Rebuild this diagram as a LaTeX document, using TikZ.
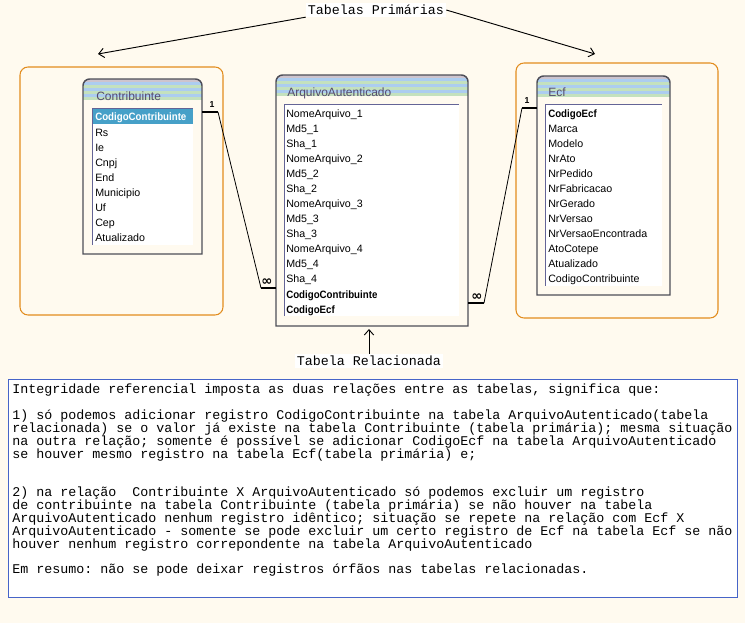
\documentclass[tikz,border=0pt]{standalone}
\usepackage{fontspec}
\setmainfont{Liberation Sans}
\newfontfamily\notafont{Liberation Mono}
\newfontfamily\simbolofont{DejaVu Sans}
\usetikzlibrary{arrows.meta}
\begin{document}
\begin{tikzpicture}[x=0.75pt,y=-0.75pt,font=\fontsize{8}{9}\selectfont,
  campo/.style={anchor=base west,inner sep=0pt},
  chave/.style={campo,font=\fontsize{8}{9}\selectfont\bfseries},
  titulotab/.style={anchor=base west,inner sep=0pt,text=titulo,font=\fontsize{9}{10}\selectfont},
  grupo/.style={draw=laranja,line width=0.8pt,rounded corners=6pt},
  tabela/.style={draw=moldura,line width=1.1pt},
  relacao/.style={line width=0.6pt},
  extremo/.style={line width=2.2pt},
  rotulo/.style={inner sep=0pt,font=\fontsize{6.5}{6.5}\selectfont\bfseries},
  infinito/.style={inner sep=0pt,font=\simbolofont\fontsize{10}{10}\selectfont\bfseries},
  nota/.style={fill=white,inner sep=1.5pt,font=\notafont\fontsize{10}{12}\selectfont},
  seta/.style={line width=0.7pt,-{Straight Barb[length=4pt,width=7pt]}},
  caixa/.style={draw=caixaazul,fill=white,line width=0.7pt},
  texto/.style={anchor=north west,inner sep=0pt,align=left,font=\notafont\fontsize{10}{9.64}\selectfont\frenchspacing}]
  \definecolor{fundo}{RGB}{255,250,239}
  \definecolor{laranja}{RGB}{226,140,30}
  \definecolor{moldura}{RGB}{78,78,88}
  \definecolor{borda}{RGB}{100,100,150}
  \definecolor{destaque}{RGB}{70,160,200}
  \definecolor{faixaazul}{RGB}{172,205,240}
  \definecolor{faixaverde}{RGB}{196,225,190}
  \definecolor{faixacinza}{RGB}{205,196,206}
  \definecolor{titulo}{RGB}{85,75,110}
  \definecolor{caixaazul}{RGB}{70,100,200}
  \fill[fundo] (0,0) rectangle (745,623);
  \draw[grupo] (20,67) rectangle (223,315);
  \draw[grupo] (516,63) rectangle (718,318);
  \foreach \xa/\xb/\yt/\yb in {83/202/79/254,276/468/75/326,537/670/76/295}{
    \begin{scope}
      \clip[rounded corners=5] (\xa,\yt) rectangle (\xb,\yt+40);
      \foreach \k/\cor in {0/faixacinza,1/faixaazul,2/faixaverde,3/faixaazul,4/faixaverde,5/faixaazul,6/faixaverde}
        \fill[\cor] (\xa,\yt+3*\k) rectangle (\xb,\yt+3*\k+3);
    \end{scope}
    \draw[tabela] (\xa,\yb) [rounded corners=5] -- (\xa,\yt) -- (\xb,\yt) [sharp corners] -- (\xb,\yb) -- cycle;
  }
  \foreach \xa/\ya/\xb/\yb in {92/108/193/245,284/104/459/316,545/104/662/286}{
    \fill[white] (\xa,\ya) rectangle (\xb,\yb);
    \draw[borda] (\xa,\yb) -- (\xa,\ya) -- (\xb,\ya);
  }
  \fill[destaque] (93,109) rectangle (193,124);
  \node[titulotab] (t-ct) at (96,101) {Contribuinte};
  \node[titulotab] (t-aa) at (287,97) {ArquivoAutenticado};
  \node[titulotab] (t-ecf) at (548,97) {Ecf};
  \node[chave,text=white] (ct-0) at (95,121) {\scalebox{0.91}[1]{CodigoContribuinte}};
  \foreach \t [count=\i] in {Rs,Ie,Cnpj,End,Municipio,Uf,Cep,Atualizado}
    \node[campo] (ct-\i) at (95,122+15*\i) {\t};
  \foreach \t [count=\i] in {NomeArquivo\_1,Md5\_1,Sha\_1,NomeArquivo\_2,Md5\_2,Sha\_2,NomeArquivo\_3,Md5\_3,Sha\_3,NomeArquivo\_4,Md5\_4,Sha\_4}
    \node[campo] (aa-\i) at (286,103+15*\i) {\t};
  \node[chave] (aa-13) at (286,298) {\scalebox{0.91}[1]{CodigoContribuinte}};
  \node[chave] (aa-14) at (286,313) {\scalebox{0.91}[1]{CodigoEcf}};
  \node[chave] (ecf-0) at (548,118) {\scalebox{0.91}[1]{CodigoEcf}};
  \foreach \t [count=\i] in {Marca,Modelo,NrAto,NrPedido,NrFabricacao,NrGerado,NrVersao,NrVersaoEncontrada,AtoCotepe,Atualizado,CodigoContribuinte}
    \node[campo] (ecf-\i) at (548,118+15*\i) {\t};
  \coordinate (ct-lig) at (202,112);
  \coordinate (ct-dobra) at (218,112);
  \coordinate (aa-dobra-ct) at (261,288);
  \coordinate (aa-lig-ct) at (276,288);
  \coordinate (ecf-lig) at (537,108);
  \coordinate (ecf-dobra) at (522,108);
  \coordinate (aa-dobra-ecf) at (484,303);
  \coordinate (aa-lig-ecf) at (468,303);
  \draw[relacao] (ct-dobra) -- (aa-dobra-ct);
  \draw[extremo] (ct-lig) -- (ct-dobra);
  \draw[extremo] (aa-dobra-ct) -- (aa-lig-ct);
  \draw[relacao] (ecf-dobra) -- (aa-dobra-ecf);
  \draw[extremo] (ecf-lig) -- (ecf-dobra);
  \draw[extremo] (aa-dobra-ecf) -- (aa-lig-ecf);
  \node[rotulo] (um-ct) at (212,105) {1};
  \node[infinito] (n-ct) at (267,282) {∞};
  \node[rotulo] (um-ecf) at (527,101) {1};
  \node[infinito] (n-ecf) at (477,297) {∞};
  \node[nota] (primarias) at (376,10) {Tabelas Primárias};
  \coordinate (seta-ct) at (98,54);
  \coordinate (seta-ecf) at (595,54);
  \draw[seta] (primarias.south west) -- (seta-ct);
  \draw[seta] (primarias.east) -- (seta-ecf);
  \node[nota] (relacionada) at (369,361) {Tabela Relacionada};
  \coordinate (aa-base) at (369,329);
  \draw[seta] (relacionada.north) -- (aa-base);
  \draw[caixa] (8,379) rectangle (737,597);
  \node[texto] (regras) at (12,384) {Integridade referencial imposta as duas relações entre as tabelas, significa que:\\[9.64pt]
1) só podemos adicionar registro CodigoContribuinte na tabela ArquivoAutenticado(tabela\\
relacionada) se o valor já existe na tabela Contribuinte (tabela primária); mesma situação\\
na outra relação; somente é possível se adicionar CodigoEcf na tabela ArquivoAutenticado\\
se houver mesmo registro na tabela Ecf(tabela primária) e;\\[19.28pt]
2) na relação\ \ Contribuinte X ArquivoAutenticado só podemos excluir um registro\\
de contribuinte na tabela Contribuinte (tabela primária) se não houver na tabela\\
ArquivoAutenticado nenhum registro idêntico; situação se repete na relação com Ecf X\\
ArquivoAutenticado - somente se pode excluir um certo registro de Ecf na tabela Ecf se não\\
houver nenhum registro correpondente na tabela ArquivoAutenticado\\[9.64pt]
Em resumo: não se pode deixar registros órfãos nas tabelas relacionadas.};
\end{tikzpicture}
\end{document}
